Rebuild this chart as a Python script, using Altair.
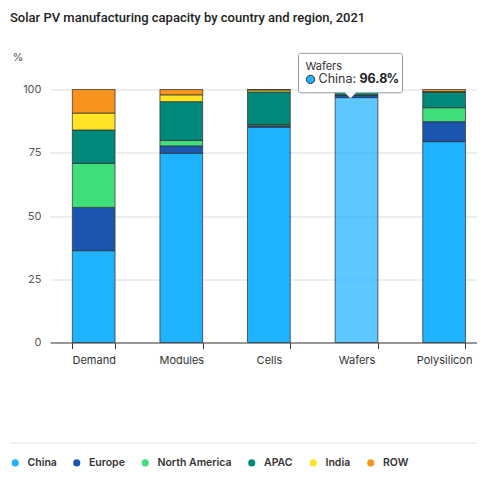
import altair as alt
import pandas as pd

categories = ["Demand", "Modules", "Cells", "Wafers", "Polysilicon"]
regions = ["China", "Europe", "North America", "APAC", "India", "ROW"]
colors = ["#1fb3ff", "#1a56b0", "#3fe07b", "#00897b", "#ffe324", "#f7941d"]

china = [36.3, 74.8, 85.1, 96.8, 79.4]
europe = [17.1, 2.9, 0.6, 0.9, 7.9]
north_america = [17.4, 2.2, 0.5, 0.1, 5.5]
apac = [13.2, 15.3, 12.8, 2.2, 6.2]
india = [6.7, 2.7, 0.8, 0.0, 0.2]
row = [9.3, 2.1, 0.2, 0.0, 0.8]

series = [china, europe, north_america, apac, india, row]
rows = []
for ri, (reg, vals) in enumerate(zip(regions, series)):
    for c, v in zip(categories, vals):
        rows.append({"cat": c, "region": reg, "value": v, "ord": ri,
                     "hl": 0.72 if (c == "Wafers" and reg == "China") else 1.0})
df = pd.DataFrame(rows)

FONT = "Inter"

x = alt.X("cat:N", sort=categories, title=None,
          scale=alt.Scale(paddingInner=0.5125, paddingOuter=0.255, range=[0, 437.8]),
          axis=alt.Axis(labelAngle=0, tickBand="extent", tickSize=6, tickColor="#333",
                        domainColor="#444", labelColor="#333", labelFontSize=11,
                        labelPadding=6, labelFont=FONT))
y = alt.Y("value:Q", stack="zero",
          scale=alt.Scale(domain=[0, 100], nice=False),
          axis=alt.Axis(values=[0, 25, 50, 75, 100], title="%", titleAngle=0,
                        titleAlign="left", titleBaseline="middle", titleX=-38, titleY=-32,
                        titleFontWeight="normal", titleFontSize=11, titleColor="#555",
                        titleFont=FONT, labelFont=FONT,
                        labelFontSize=11, labelColor="#555", tickSize=0, labelPadding=9,
                        domain=False, gridColor="#dcdcdc"))

bars = alt.Chart(df).mark_bar(stroke="#333", strokeWidth=1, strokeOpacity=0.75).encode(
    x=x, y=y,
    color=alt.Color("region:N", sort=regions,
                    scale=alt.Scale(domain=regions, range=colors),
                    legend=alt.Legend(title=None, orient="none", direction="horizontal",
                                      legendX=-40, legendY=368, symbolType="circle",
                                      symbolSize=50, symbolStrokeWidth=0,
                                      labelFontSize=10.5, labelFontWeight=600,
                                      labelColor="#333", labelFont=FONT,
                                      labelOffset=7, columnPadding=14.5)),
    order=alt.Order("ord:Q"),
    fillOpacity=alt.FillOpacity("hl:Q", scale=None, legend=None),
)

# separator line above legend
sep = alt.Chart(pd.DataFrame({"a": [0]})).mark_rule(color="#e2e2e2", strokeWidth=1).encode(
    x=alt.value(-40), x2=alt.value(430), y=alt.value(353.5))

# tooltip annotation for Wafers / China
tip_cat = ["Wafers"]
tip_val = [96.8]
tip = pd.DataFrame({"cat": tip_cat, "value": tip_val, "top": [114.3], "bottom": [98.7],
                    "ptr": [97.7], "l1": [108.9], "l2": [104.0]})
tx = alt.X("cat:N", sort=categories)
box = alt.Chart(tip).mark_bar(width=104, xOffset=-6, fill="white", stroke="#9a9a9a",
                              strokeWidth=1, cornerRadius=2).encode(
    x=tx, y=alt.Y("top:Q"), y2="bottom:Q")
ptr = alt.Chart(tip).mark_point(shape="M -1 -0.5 L 0 0.5 L 1 -0.5", size=144, filled=False,
                                fill="white", fillOpacity=1, stroke="#9a9a9a",
                                strokeWidth=1, opacity=1, xOffset=-6).encode(
    x=tx, y=alt.Y("ptr:Q"))
t1 = alt.Chart(tip).mark_text(text="Wafers", align="left", baseline="middle", dx=-51,
                              fontSize=11, color="#333", font=FONT).encode(
    x=tx, y=alt.Y("l1:Q"))
dot = alt.Chart(tip).mark_point(shape="circle", size=70, filled=True, fill="#1fb3ff",
                                stroke="#333", strokeWidth=1, opacity=1, xOffset=-46).encode(
    x=tx, y=alt.Y("l2:Q"))
t2 = alt.Chart(tip).mark_text(text="China:", align="left", baseline="middle", dx=-38,
                              fontSize=12.5, color="#333", font=FONT).encode(
    x=tx, y=alt.Y("l2:Q"))
t3 = alt.Chart(tip).mark_text(align="left", baseline="middle", dx=3,
                              fontSize=12.5, fontWeight="bold", color="#222", font=FONT).encode(
    x=tx, y=alt.Y("l2:Q"), text=alt.Text("value:Q", format=".1f"))
t3b = alt.Chart(tip).mark_text(text="%", align="left", baseline="middle", dx=30,
                               fontSize=12.5, fontWeight="bold", color="#222", font=FONT).encode(
    x=tx, y=alt.Y("l2:Q"))

chart = alt.layer(bars, sep, box, ptr, t1, dot, t2, t3, t3b).properties(
    width=427, height=253,
    autosize="none",
    padding={"left": 42, "top": 81.5, "right": 0, "bottom": 129},
    title=alt.TitleParams("Solar PV manufacturing capacity by country and region, 2021",
                          anchor="start", frame="group", dx=-40, offset=27, fontSize=13,
                          fontWeight=500, color="#222", font="Roboto"),
).configure_view(stroke=None)

chart.save("out.html", embed_options={"renderer": "svg", "actions": False})
